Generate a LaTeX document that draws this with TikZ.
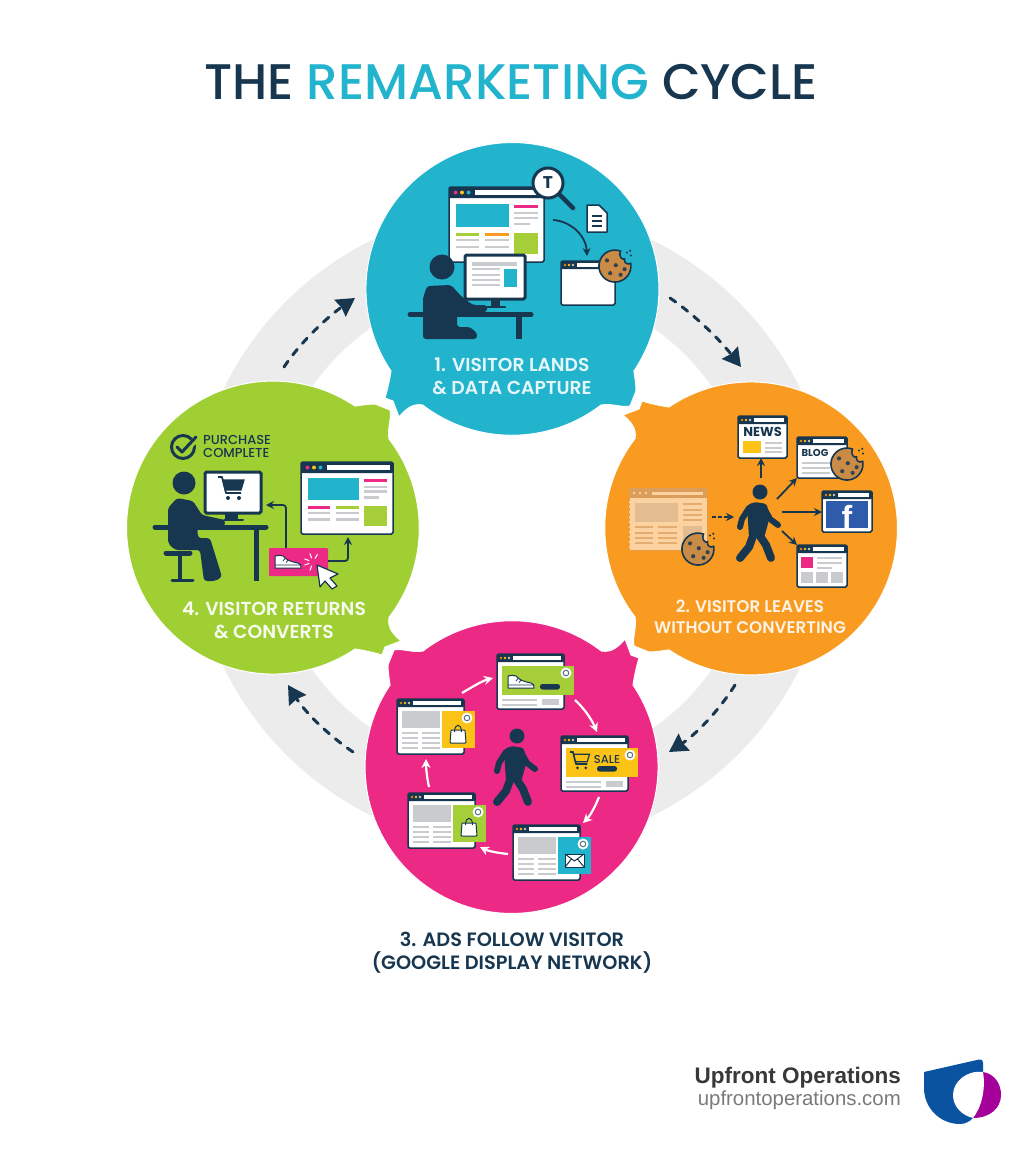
\documentclass[tikz,border=0pt]{standalone}
\usepackage{fontspec}
\setmainfont{Poppins}
\newfontfamily\medfont{Poppins Medium}
\newfontfamily\semifont{Poppins SemiBold}
\newfontfamily\logofont{Liberation Sans}
\usetikzlibrary{arrows.meta}
\definecolor{navyc}{HTML}{17364F}
\definecolor{tealc}{HTML}{22B3CD}
\definecolor{orangec}{HTML}{F89B20}
\definecolor{pinkc}{HTML}{EC2A86}
\definecolor{greenc}{HTML}{A0CF34}
\definecolor{limec}{HTML}{A5CE39}
\definecolor{yellowc}{HTML}{FBC315}
\definecolor{ringc}{HTML}{ECECEC}
\definecolor{linec}{HTML}{C9CBCE}
\definecolor{cookiec}{HTML}{C98B45}
\definecolor{peachc}{HTML}{FBD2A0}
\definecolor{peachd}{HTML}{DC9C5A}
\definecolor{peache}{HTML}{E3BC90}
\definecolor{fbblue}{HTML}{2F5BAB}
\definecolor{logoblue}{HTML}{0A53A0}
\definecolor{logopurple}{HTML}{A6009A}
\tikzset{
  title/.style = {font=\medfont\fontsize{50}{52}\selectfont, text=navyc},
  steplabel/.style = {align=center},
  winbox/.style = {draw=navyc, fill=white, line width=1.5pt, rounded corners=1.5pt, inner sep=0pt, outer sep=0pt, anchor=north west},
  gline/.style = {draw=linec, line width=1.8pt},
  cyclearrow/.style = {draw=navyc, line width=3pt, line cap=round, dash pattern=on 7pt off 8pt, -{Stealth[inset=1.5pt, length=18pt, width=20pt]}},
  iconarrow/.style = {draw=navyc, line width=1.8pt, -{Stealth[length=8pt,width=8pt]}},
  adarrow/.style = {draw=white, line width=2.2pt, -{Stealth[length=9pt,width=9pt]}},
  blob/.pic = {
    \filldraw[fill=#1, draw=white, line width=1pt] (-121,-157) arc[start angle=146, end angle=394, radius=146.5]
      .. controls (123,-150) and (124,-143) .. (124,-137) -- (118,-122)
      .. controls (110,-120) and (100,-125) .. (89,-123)
      arc[start angle=52.5, end angle=127.5, radius=146.5]
      .. controls (-100,-125) and (-107,-118) .. (-113,-111)
      -- (-119,-127) -- (-127,-130)
      .. controls (-124,-140) and (-122,-150) .. (-121,-157) -- cycle;
  },
}
\def\barh{8}\def\dotgap{4}\def\dotr{1.3}\def\dota{orange!80!brown}\def\dotb{yellowc}\def\dotc{linec}
\newcommand{\winnode}[5]{%
  \node[winbox, minimum width=#4pt, minimum height=#5pt] (#1) at (#2,#3) {};
  \fill[navyc, rounded corners=1pt] (#1.north west) rectangle ([yshift={-\barh*1pt}]#1.north east);
  \fill[\dota] ([shift={({\dotgap*1pt},{-0.5*\barh*1pt})}]#1.north west) circle[radius=\dotr];
  \fill[\dotb] ([shift={({2*\dotgap*1pt},{-0.5*\barh*1pt})}]#1.north west) circle[radius=\dotr];
  \fill[\dotc] ([shift={({3*\dotgap*1pt},{-0.5*\barh*1pt})}]#1.north west) circle[radius=\dotr];
  \fill[white] ([shift={({4*\dotgap*1pt},{-0.3*\barh*1pt})}]#1.north west) rectangle ([shift={(-3pt,{-0.7*\barh*1pt})}]#1.north east);
}
\newcommand{\grays}[3]{\foreach \yy in {#3} {\draw[gline] (#1,\yy) -- (#2,\yy);}}
\newcommand{\sitewin}[7]{%
  \begin{scope}[gline/.append style={line width=2.6pt}]
    \def\barh{11}\def\dotgap{6.5}\def\dotr{2}\def\dota{pinkc}\def\dotb{yellowc}\def\dotc{tealc}
    \winnode{#1}{#2}{#3}{#4}{#5}
    \begin{scope}[shift={(#2,#3)}, xscale=#4/95, yscale=#5/75]
      \fill[tealc] (7,17) rectangle (60,40);
      \fill[pinkc] (65,18) rectangle (89,21);
      \grays{65}{89}{26,31}\draw[gline] (65,37) -- (81,37);
      \fill[#6] (7,46) rectangle (30,48.5);
      \fill[#7] (36,46) rectangle (60,48.5);
      \grays{7}{30}{53,60}\grays{36}{60}{53,60}
      \fill[limec] (65,46) rectangle (89,67);
    \end{scope}
  \end{scope}
}
\newcommand{\cookie}[3]{%
  \begin{scope}[shift={(#1,#2)}, scale=#3]
    \filldraw[fill=cookiec, draw=navyc, line width=1.6pt] (.98,-.17) arc[start angle=-10, end angle=290, radius=1]
      .. controls (.2,-.6) and (.45,-.35) .. (.6,-.45) .. controls (.55,-.2) and (.75,-.05) .. (.98,-.17) -- cycle;
    \foreach \cx/\cy in {-.5/-.35,.05/-.05,-.3/.45,.35/.55,.6/.2} {\fill[navyc!85!cookiec] (\cx,\cy) circle[radius=.13];}
    \foreach \cx/\cy in {.75/-.85,1/-.65,.95/-.95} {\fill[navyc] (\cx,\cy) circle[radius=.07];}
  \end{scope}
}
\newcommand{\walker}[2]{%
  \begin{scope}[shift={(#1,#2)}, navyc, line cap=round, line join=round]
    \fill (0,0) circle[radius=7.5];
    \fill[rounded corners=3pt] (-13,13) -- (-5,10) -- (7,12) -- (9,28) -- (4,46) -- (-11,46) -- cycle;
    \draw[line width=6pt] (-11,16) -- (-18,27) -- (-20,35);
    \draw[line width=6pt] (4,16) -- (10,27) -- (18,33);
    \draw[line width=8pt] (-7,44) -- (-11,55) -- (-20,66);
    \draw[line width=8pt] (0,44) -- (6,53) -- (11,66);
  \end{scope}
}
\newcommand{\shoe}[2]{%
  \begin{scope}[shift={(#1,#2)}]
    \filldraw[fill=white, draw=navyc, line width=1pt, line join=round] (1,1) .. controls (4,0) and (7,0) .. (9,1) .. controls (12,5) and (18,7) .. (24,8) .. controls (26.5,8.5) and (27.5,11) .. (27,13) -- (1,13) -- cycle;
    \draw[navyc, line width=.8pt] (1,10) -- (27,10) (11,3.5) -- (9,6) (14,5.2) -- (12,7.5);
  \end{scope}
}
\newcommand{\cart}[4]{%
  \begin{scope}[shift={(#1,#2)}, scale=#3]
    \draw[navyc, line width=1.8pt, line join=round] (0,0) -- (4,0) -- (8,16) -- (23,16);
    \filldraw[fill=#4, draw=navyc, line width=1.2pt] (5,3) -- (26,3) -- (23,13) -- (7.5,13) -- cycle;
    \fill[navyc] (10,21) circle[radius=2] (21,21) circle[radius=2];
  \end{scope}
}
\newcommand{\bag}[3]{%
  \begin{scope}[shift={(#1,#2)}]
    \filldraw[fill=#3, draw=navyc, line width=1pt, rounded corners=.8pt] (0,5) -- (14,5) -- (15,18) -- (-1,18) -- cycle;
    \draw[navyc, line width=1pt] (3.5,7) .. controls (3.5,-2) and (10.5,-2) .. (10.5,7);
  \end{scope}
}
\newcommand{\badge}[2]{%
  \fill[white] (#1,#2) circle[radius=5.5];
  \draw[navyc!70, line width=1pt] (#1,#2) circle[radius=2.8];
}
\newcommand{\adwin}[4]{%
  \winnode{#1}{#2}{#3}{67}{55}
  \begin{scope}[shift={(#2,#3)}]
    \fill[linec] (5,12) rectangle (43,29);
    \grays{5}{21}{34,39,44,49}\grays{25}{43}{34,39,44,49}
    \fill[#4] (45,12) rectangle (78,49);
    \badge{70}{19}
  \end{scope}
}
\newcommand{\adtop}[5]{%
  \winnode{#1}{#2}{#3}{67}{55}
  \begin{scope}[shift={(#2,#3)}]
    \grays{5}{40}{46,51}
    \fill[linec] (45,45) rectangle (62,51);
    \fill[#4] (5,12) rectangle (77,41);
    \fill[navyc, rounded corners=2.5pt] (#5,30) rectangle +(20,5.5);
    \badge{69}{19}
  \end{scope}
}
\begin{document}
\begin{tikzpicture}[x=1pt, y=-1pt, >=stealth]
  \useasboundingbox (0,0) rectangle (1024,1154);
  \fill[white] (0,0) rectangle (1024,1154);
  \node[title] (titletext) at (511,82) {THE \textcolor{tealc}{REMARKETING} CYCLE};

  \fill[ringc, even odd rule] (512,528) circle[radius=320] circle[radius=245];
  \coordinate (a1s) at (670,298); \coordinate (a1e) at (741,367);
  \coordinate (a2s) at (735,685); \coordinate (a2e) at (669,752);
  \coordinate (a3s) at (353,752); \coordinate (a3e) at (288,685);
  \coordinate (a4s) at (284,367); \coordinate (a4e) at (355,298);
  \draw[cyclearrow] (a1s) .. controls (695,315) and (720,340) .. (a1e);
  \draw[cyclearrow] (a2s) .. controls (718,712) and (695,735) .. (a2e);
  \draw[cyclearrow] (a3s) .. controls (328,735) and (305,712) .. (a3e);
  \draw[cyclearrow] (a4s) .. controls (302,340) and (330,315) .. (a4e);

  \foreach \col/\ang in {tealc/0,orangec/-90,pinkc/-180,greenc/-270} {
    \pic[rotate=\ang] at (512,528) {blob=\col};
  }

  % visitor lands
  \sitewin{sitea}{449}{187}{95}{75}{limec}{orangec}
  \filldraw[fill=white, draw=navyc, line width=3pt] (548,183) circle[radius=15];
  \draw[navyc, line width=4.5pt, line cap=round] (560,195) -- (573,208);
  \node[font=\bfseries\fontsize{17}{17}\selectfont, text=navyc] (magt) at (548,183) {T};
  \filldraw[fill=white, draw=navyc, line width=1.5pt, line join=round] (587,205) -- (599,205) -- (607,213) -- (607,232) -- (587,232) -- cycle;
  \foreach \yy in {216,221,226} {\draw[navyc, line width=1.2pt] (592,\yy) -- (602,\yy);}
  \coordinate (docs) at (553,220); \coordinate (doce) at (587,256);
  \draw[iconarrow] (docs) .. controls (570,221) and (586,235) .. (doce);
  \winnode{cookiewin}{561}{261}{54}{44}
  \cookie{615}{266}{16}
  \node[winbox, draw=navyc, line width=3pt, minimum width=60pt, minimum height=44pt] (mona) at (465,255) {};
  \fill[linec] (472,262) rectangle (517,266);
  \grays{472}{500}{269,275,280,285}
  \fill[tealc] (504,269) rectangle (517,287);
  \fill[navyc] (491,299) rectangle (500,307);
  \draw[navyc, line width=2.5pt, line cap=round] (487,307) -- (505,307);
  \fill[navyc] (442,267) circle[radius=12.5];
  \fill[navyc, rounded corners=3pt] (423,298) -- (427,286) -- (451,285) -- (462,297) -- (473,305) -- (487,305) -- (487,312) -- (460,313) -- (457,310) -- (457,327) -- (470,327) -- (477,333) -- (477,339) -- (423,339) -- cycle;
  \draw[navyc, line width=5pt, line cap=round] (410,314.5) -- (531,314.5);
  \draw[navyc, line width=5.5pt] (519,314) -- (519,339);
  \node[steplabel, font=\semifont\fontsize{18.7}{23}\selectfont, text=tealc!12!white] (labela) at (512,376) {1. VISITOR LANDS\\\& DATA CAPTURE};

  % visitor leaves
  \fill[peachc] (629,488) rectangle (707,550);
  \fill[peachd] (629,488) rectangle (707,498);
  \draw[peachd, line width=1pt, densely dashed] (629,498) -- (629,550) -- (707,550) -- (707,498);
  \foreach \cx in {634,640,646} {\fill[peachc] (\cx,493) circle[radius=1.3];}
  \fill[peachc] (652,491.5) rectangle (703,494.5);
  \fill[peache] (635,503) rectangle (678,522);
  \foreach \yy in {504,510,515,520} {\draw[peachd!70!peachc, line width=1.2pt] (683,\yy) -- (702,\yy);}
  \foreach \yy in {527,533,538,543} {
    \draw[peachd!70!peachc, line width=1.2pt] (635,\yy) -- (653,\yy);
    \draw[peachd!70!peachc, line width=1.2pt] (658,\yy) -- (677,\yy);
  }
  \fill[peache] (683,526) rectangle (702,543);
  \cookie{698}{549}{16}
  \coordinate (leaves) at (712,517); \coordinate (walkin) at (734,517);
  \draw[iconarrow, dash pattern=on 3.5pt off 2.5pt] (leaves) -- (walkin);
  \walker{760}{492}
  \winnode{newswin}{738}{416}{49}{42}
  \node[font=\bfseries\fontsize{13}{13}\selectfont, text=navyc] (newstext) at (762.5,432) {NEWS};
  \fill[yellowc] (743,441) rectangle (761,453);
  \grays{765}{782}{443,448,452}
  \winnode{blogwin}{797}{437}{50}{41}
  \node[font=\bfseries\fontsize{10}{10}\selectfont, text=navyc] (blogtext) at (815,453) {BLOG};
  \grays{802}{830}{463,468,473}
  \cookie{847}{464}{16}
  \winnode{fbwin}{822}{491}{50}{41}
  \fill[fbblue] (826,501) rectangle (868,528);
  \node[font=\logofont\bfseries\fontsize{32}{32}\selectfont, text=white, anchor=base] (fbf) at (847,528) {f};
  \winnode{pagewin}{797}{545}{50}{42}
  \fill[pinkc] (801,557) rectangle (813,568);
  \grays{817}{842}{558,563}\draw[gline] (817,568) -- (832,568);
  \foreach \cx in {801,816,831} {\fill[linec] (\cx,572) rectangle +(11.5,11);}
  \coordinate (walktop) at (761,478); \coordinate (walkblog) at (777,499);
  \coordinate (walkfb) at (782,512); \coordinate (walkpage) at (782,531);
  \draw[iconarrow] (walktop) -- (newswin.south -| walktop);
  \draw[iconarrow] (walkblog) -- (blogwin.south west);
  \draw[iconarrow] (walkfb) -- (fbwin.west |- walkfb);
  \draw[iconarrow] (walkpage) -- (pagewin.north west);
  \node[steplabel, font=\semifont\fontsize{16.8}{21}\selectfont, text=orangec!12!white] (labelb) at (750,617) {2. VISITOR LEAVES\\WITHOUT CONVERTING};

  % ads follow
  \adtop{adshoe}{497}{654}{limec}{43}
  \shoe{507}{675}
  \adtop{adsale}{561}{736}{yellowc}{36}
  \cart{570}{752}{.75}{yellowc}
  \node[font=\medfont\fontsize{11.5}{12}\selectfont, text=navyc] (saletext) at (607,759) {SALE};
  \adwin{admail}{513}{825}{tealc}
  \filldraw[fill=white, draw=navyc, line width=1pt] (565,854) rectangle (584,867);
  \draw[navyc, line width=1pt] (565,854) -- (574.5,861) -- (584,854) (565,867) -- (571.5,859) (584,867) -- (577.5,859);
  \adwin{adbagg}{408}{793}{limec}
  \bag{462}{818}{white}
  \adwin{adbagy}{397}{699}{yellowc}
  \bag{451}{725}{white}
  \walker{517}{736}
  \coordinate (s1) at (462,693); \coordinate (e1) at (493,678);
  \coordinate (s2) at (575,700); \coordinate (e2) at (597,732);
  \coordinate (s3) at (599,797); \coordinate (e3) at (583,823);
  \coordinate (s4) at (508,854); \coordinate (e4) at (480,847);
  \coordinate (s5) at (429,787); \coordinate (e5) at (426,759);
  \draw[adarrow] (s1) .. controls (472,687) and (482,681) .. (e1);
  \draw[adarrow] (s2) .. controls (584,708) and (592,720) .. (e2);
  \draw[adarrow] (s3) .. controls (595,807) and (590,816) .. (e3);
  \draw[adarrow] (s4) .. controls (498,853) and (488,851) .. (e4);
  \draw[adarrow] (s5) .. controls (427,778) and (426,768) .. (e5);
  \node[steplabel, font=\semifont\fontsize{19.3}{23}\selectfont, text=navyc] (labelc) at (512,952.5) {3. ADS FOLLOW VISITOR\\(GOOGLE DISPLAY NETWORK)};

  % visitor returns
  \draw[navyc, line width=3pt] (183,447) circle[radius=11.5];
  \draw[greenc, line width=6pt] (186,450) -- (198,437);
  \draw[navyc, line width=3pt, line cap=round, line join=round] (177,447) -- (182,452) -- (196,437);
  \node[font=\medfont\fontsize{13}{13.5}\selectfont, text=navyc, align=left, anchor=west, inner sep=0pt] (purchase) at (203,446.5) {PURCHASE\\COMPLETE};
  \fill[navyc] (184,483) circle[radius=11.5];
  \node[winbox, line width=3pt, minimum width=56pt, minimum height=41pt] (monb) at (205,472) {};
  \cart{218}{477}{1}{navyc}
  \fill[navyc] (225,513) rectangle (238,519);
  \draw[navyc, line width=2pt, line cap=round] (224,520) -- (243,520);
  \fill[navyc, rounded corners=3pt] (168,508) -- (177,498) -- (193,501) -- (202,515) -- (225,520) -- (225,526) -- (200,526) -- (197,523) -- (198,538) -- (210,538) -- (222,577) -- (215,581) -- (204,581) -- (200,550) -- (175,550) -- (168,543) -- cycle;
  \draw[navyc, line width=5pt, line cap=round] (166,553) -- (190,553);
  \draw[navyc, line width=3.5pt] (180,555) -- (180,580);
  \draw[navyc, line width=3pt, line cap=round] (172,580) -- (193,580);
  \draw[navyc, line width=5pt, line cap=round] (155,527) -- (266,527);
  \draw[navyc, line width=5pt] (256,527) -- (256,581);
  \sitewin{siteb}{301}{462}{92}{72}{pinkc}{limec}
  \node[fill=pinkc, inner sep=0pt, minimum width=59pt, minimum height=28pt, rounded corners=1pt] (buybtn) at (298.5,562) {};
  \shoe{274}{555}
  \foreach \ang in {200,250,300,160,110} {\draw[white, line width=1pt] (313,562) ++(\ang:4) -- ++(\ang:5);}
  \filldraw[fill=white, draw=navyc, line width=1.2pt, line join=round] (317,565) -- (338,574) -- (330,578) -- (337,586) -- (332,589) -- (325,581) -- (320,587) -- cycle;
  \coordinate (buyup) at (286,548); \coordinate (monin) at (266,505);
  \coordinate (buyout) at (328,561); \coordinate (sitein) at (348,537);
  \draw[iconarrow, rounded corners=3pt] (buyup) -- (286,505) -- (monin);
  \draw[iconarrow, rounded corners=3pt] (buyout) -- (348,561) -- (sitein);
  \node[steplabel, font=\semifont\fontsize{18.8}{23}\selectfont, text=greenc!8!white] (labeld) at (274,620) {4. VISITOR RETURNS\\\& CONVERTS};

  % logo
  \node[font=\logofont\bfseries\fontsize{22.5}{23}\selectfont, text=black!78, anchor=east, inner sep=0pt] (logoa) at (901,1078) {Upfront Operations};
  \node[font=\logofont\fontsize{20.4}{20}\selectfont, text=black!52, anchor=east, inner sep=0pt] (logob) at (901,1100) {upfrontoperations.com};
  \fill[logoblue] (924,1072) -- (979,1059.5) .. controls (982,1059) and (983,1060) .. (983,1063) -- (983,1072) -- (983,1090) -- (973,1118) .. controls (970,1121) and (966,1124) .. (960,1124) .. controls (940,1124) and (924,1108) .. (924,1088) -- cycle;
  \fill[logopurple] (983,1072) .. controls (995,1074) and (1001,1084) .. (1001,1095) .. controls (1001,1108) and (990,1118) .. (973,1118) -- cycle;
  \fill[white] (983,1072) .. controls (966,1070) and (953,1082) .. (953,1095) .. controls (953,1106) and (961,1115) .. (973,1118) .. controls (981,1108) and (986,1090) .. (983,1072) -- cycle;
\end{tikzpicture}
\end{document}
